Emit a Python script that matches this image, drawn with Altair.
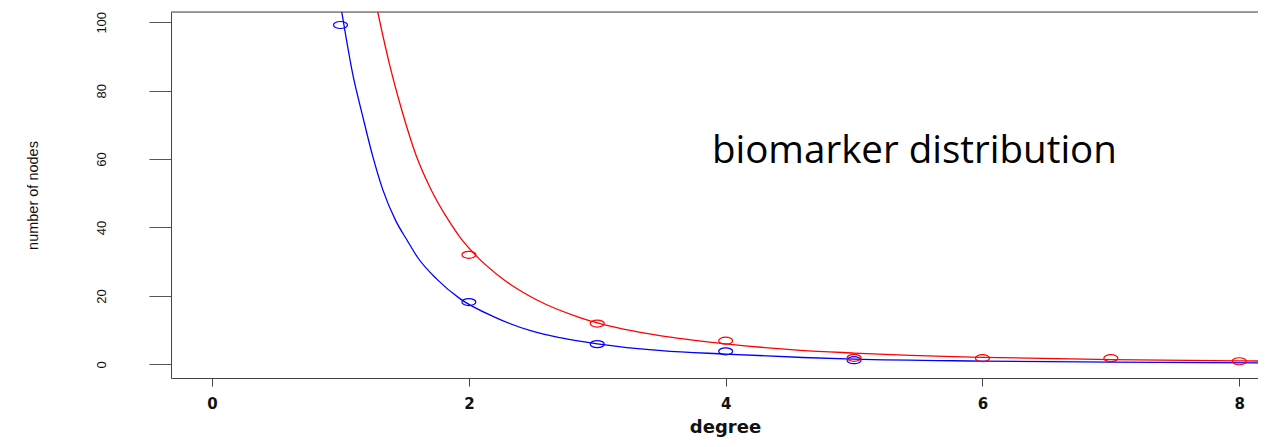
import altair as alt
import pandas as pd

blue_pts_x = [1, 2, 3, 4, 5]
blue_pts_y = [99.2, 18.2, 5.9, 3.8, 1.2]
red_pts_x = [2, 3, 4, 5, 6, 7, 8]
red_pts_y = [32.0, 11.9, 6.9, 1.9, 1.8, 1.8, 0.9]

# fitted curves
blue_curve_x = [1.01, 1.10, 1.17, 1.25, 1.33, 1.43, 1.52, 1.60, 1.75, 1.93, 2.20, 2.50, 2.71, 3.0, 3.5, 4.0, 4.6, 5.0, 6.0, 7.0, 8.2]
blue_curve_y = [103, 84, 73, 61, 51.0, 42.0, 36.2, 31.3, 24.9, 19.2, 13.8, 9.6, 7.8, 6.0, 4.0, 3.0, 2.0, 1.5, 0.95, 0.65, 0.4]
red_curve_x = [1.29, 1.38, 1.48, 1.59, 1.70, 1.84, 1.93, 2.05, 2.27, 2.53, 2.87, 3.0, 3.5, 4.0, 4.58, 5.0, 5.44, 6.0, 7.0, 8.0, 8.2]
red_curve_y = [103, 88, 74, 61, 51.5, 42.2, 37.2, 32.0, 24.8, 18.8, 13.6, 12.1, 8.3, 6.0, 4.1, 3.3, 2.6, 2.05, 1.4, 1.0, 0.95]

x_ticks = [0, 2, 4, 6, 8]
y_ticks = [0, 20, 40, 60, 80, 100]
annotation = "biomarker distribution"

pts = pd.concat([
    pd.DataFrame({"degree": blue_pts_x, "nodes": blue_pts_y, "series": "blue"}),
    pd.DataFrame({"degree": red_pts_x, "nodes": red_pts_y, "series": "red"}),
])
curves = pd.concat([
    pd.DataFrame({"degree": blue_curve_x, "nodes": blue_curve_y, "series": "blue"}),
    pd.DataFrame({"degree": red_curve_x, "nodes": red_curve_y, "series": "red"}),
])

xscale = alt.Scale(domain=[-0.32, 8.146], nice=False, zero=False)
yscale = alt.Scale(domain=[-4, 103], nice=False, zero=False)
color = alt.Color("series:N", scale=alt.Scale(domain=["blue", "red"], range=["#0000FF", "#FF0000"]), legend=None)

xaxis = alt.Axis(
    values=x_ticks, format="d", grid=False,
    labelFont="DejaVu Sans", labelFontWeight="bold", labelFontSize=15, labelColor="#111",
    labelPadding=10, tickSize=8, tickColor="#444", domainColor="#444",
    title="degree", titleFont="DejaVu Sans", titleFontWeight="bold", titleFontSize=18,
    titleColor="#111", titleX=554, titleY=54, titleAlign="center", titleBaseline="alphabetic",
)
yaxis = alt.Axis(
    values=y_ticks, format="d", grid=False,
    labelFont="Liberation Sans", labelFontSize=13, labelColor="#111",
    labelAngle=270, labelAlign="center", labelBaseline="alphabetic", labelPadding=44,
    tickSize=22, tickColor="#555", domainColor="#444",
    title="number of nodes", titleFont="Liberation Sans", titleFontWeight="normal",
    titleFontSize=14.5, titleColor="#111", titleAngle=270, titleX=-134, titleY=183,
    titleAlign="center", titleBaseline="alphabetic",
)

lines = alt.Chart(curves).mark_line(strokeWidth=1.3, interpolate="monotone", clip=True).encode(
    x=alt.X("degree:Q", scale=xscale, axis=xaxis),
    y=alt.Y("nodes:Q", scale=yscale, axis=yaxis),
    color=color,
    detail="series:N",
)

points = alt.Chart(pts).mark_point(
    shape="M -1 0 A 1 0.5 0 1 0 1 0 A 1 0.5 0 1 0 -1 0 Z",
    size=196, filled=False, strokeWidth=1.2, opacity=1, clip=True,
).encode(
    x=alt.X("degree:Q", scale=xscale),
    y=alt.Y("nodes:Q", scale=yscale),
    color=color,
)

top_border = alt.Chart(pd.DataFrame({"v": [103]})).mark_rule(color="#444", strokeWidth=1).encode(
    y=alt.Y("v:Q", scale=yscale),
)

label = alt.Chart(pd.DataFrame({"t": [annotation]})).mark_text(
    font="Open Sans", fontSize=38.5, color="#000", align="center", baseline="alphabetic",
).encode(
    x=alt.datum(5.47), y=alt.datum(58.9), text="t:N",
)

chart = alt.layer(top_border, lines, points, label).properties(
    width=1087, height=366,
    autosize=alt.AutoSizeParams(type="none"),
    padding={"left": 163, "top": 4, "right": 0, "bottom": 61},
).configure_view(stroke=None).configure(background="white")

chart.save("out.html", embed_options={"renderer": "svg", "actions": False})
